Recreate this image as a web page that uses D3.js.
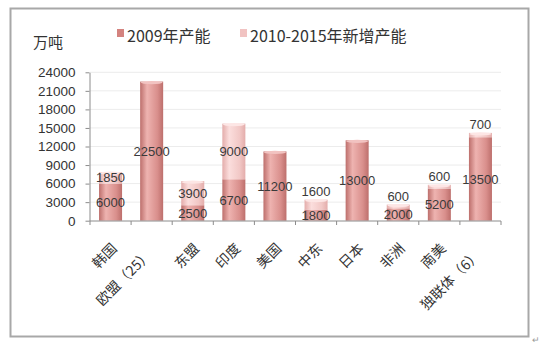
<!DOCTYPE html>
<html>
<head>
<meta charset="utf-8">
<script src="https://cdn.jsdelivr.net/npm/d3@7"></script>
<style>
  body { margin: 0; background: #fff; }
</style>
</head>
<body>
<div id="chart"></div>
<script>
// values
const categories = ["韩国", "欧盟（25）", "东盟", "印度", "美国", "中东", "日本", "非洲", "南美", "独联体（6）"];
const cap2009 = [6000, 22500, 2500, 6700, 11200, 1800, 13000, 2000, 5200, 13500];
const add1015 = [1850, 0, 3900, 9000, 0, 1600, 0, 600, 600, 700];
const yTicks = [0, 3000, 6000, 9000, 12000, 15000, 18000, 21000, 24000];
const seriesNames = ["2009年产能", "2010-2015年新增产能"];

var width = 544, height = 346;
var cjk = "'Noto Sans CJK SC', sans-serif";
var num = "'Liberation Sans', 'DejaVu Sans', sans-serif";

var svg = d3.select("#chart").append("svg")
  .attr("width", width)
  .attr("height", height)
  .attr("font-family", cjk);

// outer frame
svg.append("rect")
  .attr("x", 10.5).attr("y", 8.5)
  .attr("width", 518).attr("height", 328)
  .attr("fill", "#fff")
  .attr("stroke", "#a8a8a8")
  .attr("stroke-width", 2);

svg.append("text")
  .attr("x", 532).attr("y", 343)
  .attr("font-size", 9).attr("fill", "#999")
  .text("↵");

var x = d3.scaleBand().domain(categories).range([90, 501]).paddingInner(0.44).paddingOuter(0.22);
var y = d3.scaleLinear().domain([0, 24000]).range([220.7, 72.3]);

// gradients for the cylinder look
var defs = svg.append("defs");
function grad(id, dark, light, mid) {
  var g = defs.append("linearGradient").attr("id", id).attr("x1", 0).attr("x2", 1).attr("y1", 0).attr("y2", 0);
  g.append("stop").attr("offset", "0%").attr("stop-color", dark);
  g.append("stop").attr("offset", "30%").attr("stop-color", light);
  g.append("stop").attr("offset", "75%").attr("stop-color", mid);
  g.append("stop").attr("offset", "100%").attr("stop-color", dark);
}
grad("g1", "#bd6f6c", "#eeb3b0", "#d98f8c");
grad("g2", "#e2a8a6", "#fbdcdb", "#f1c5c3");

// gridlines
svg.append("g")
  .selectAll("line")
  .data(yTicks.slice(1))
  .join("line")
    .attr("x1", 90).attr("x2", 501)
    .attr("y1", d => y(d)).attr("y2", d => y(d))
    .attr("stroke", "#ececec")
    .attr("stroke-width", 1);

// y axis
var yAxis = svg.append("g")
  .attr("transform", "translate(89.5,0)")
  .call(d3.axisLeft(y).tickValues(yTicks).tickFormat(d3.format("d")).tickSize(4).tickSizeOuter(0).tickPadding(10));
yAxis.select(".domain").attr("stroke", "#8c8c8c");
yAxis.selectAll(".tick line").attr("stroke", "#8c8c8c");
yAxis.selectAll("text").attr("font-size", 13.5).attr("fill", "#333")
  .attr("font-family", num);

// bars
var rows = categories.map((c, i) => ({ name: c, a: cap2009[i], b: add1015[i] }));

var bars = svg.append("g");
bars.selectAll(".s1")
  .data(rows)
  .join("rect")
    .attr("class", "s1")
    .attr("x", d => x(d.name))
    .attr("width", x.bandwidth())
    .attr("y", d => y(d.a))
    .attr("height", d => y(0) - y(d.a))
    .attr("fill", "url(#g1)");

bars.selectAll(".s2")
  .data(rows.filter(d => d.b > 0))
  .join("rect")
    .attr("class", "s2")
    .attr("x", d => x(d.name))
    .attr("width", x.bandwidth())
    .attr("y", d => y(d.a + d.b))
    .attr("height", d => y(d.a) - y(d.a + d.b))
    .attr("fill", "url(#g2)")
    .attr("opacity", 0.95);

// top caps
bars.selectAll(".cap")
  .data(rows)
  .join("ellipse")
    .attr("cx", d => x(d.name) + x.bandwidth() / 2)
    .attr("cy", d => y(d.a + d.b) + 1)
    .attr("rx", x.bandwidth() / 2 - 0.5)
    .attr("ry", 1.6)
    .attr("fill", d => d.b > 0 ? "#fde6e5" : "#f2c3c1");

// x axis
svg.append("line")
  .attr("x1", 89.5).attr("x2", 501)
  .attr("y1", 221).attr("y2", 221)
  .attr("stroke", "#8c8c8c");
var bounds = categories.map((c, i) => 90 + i * (411 / 10)).concat([501]);
svg.append("g")
  .selectAll("line")
  .data(bounds)
  .join("line")
    .attr("x1", d => d).attr("x2", d => d)
    .attr("y1", 221).attr("y2", 225)
    .attr("stroke", "#8c8c8c");

svg.append("g")
  .selectAll("text")
  .data(categories)
  .join("text")
    .attr("transform", d => `translate(${x(d) + x.bandwidth() / 2 + 4},${246}) rotate(-45)`)
    .attr("text-anchor", "end")
    .attr("dx", d => d.endsWith("）") ? -9 : 0)
    .attr("dy", "0.35em")
    .attr("font-size", 14)
    .attr("fill", "#333")
    .text(d => d);

// data labels
var labels = svg.append("g")
  .attr("font-size", 13)
  .attr("fill", "#3a3a3a")
  .attr("text-anchor", "middle")
  .attr("font-family", num);

labels.selectAll(".l1")
  .data(rows)
  .join("text")
    .attr("x", d => x(d.name) + x.bandwidth() / 2)
    .attr("y", d => y(d.a / 2))
    .attr("dy", "0.35em")
    .text(d => d.a);

labels.selectAll(".l2")
  .data(rows.filter(d => d.b > 0))
  .join("text")
    .attr("x", d => x(d.name) + x.bandwidth() / 2)
    .attr("y", d => d.b < 1700 ? y(d.a + d.b) - 8 : y(d.a + d.b / 2))
    .attr("dy", "0.35em")
    .text(d => d.b);

// unit and legend
svg.append("text")
  .attr("x", 33).attr("y", 48)
  .attr("font-size", 15)
  .attr("fill", "#333")
  .text("万吨");

var legendX = [117, 240];
var legendFill = ["#d4837f", "#f1c3c2"];
var legend = svg.append("g")
  .selectAll("g")
  .data(seriesNames)
  .join("g")
    .attr("transform", (d, i) => `translate(${legendX[i]},0)`);
legend.append("rect")
  .attr("x", 0).attr("y", 29)
  .attr("width", 7).attr("height", 8)
  .attr("fill", (d, i) => legendFill[i]);
legend.append("text")
  .attr("x", 10).attr("y", 42)
  .attr("font-size", 16)
  .attr("fill", "#333")
  .text(d => d);
</script>
</body>
</html>
